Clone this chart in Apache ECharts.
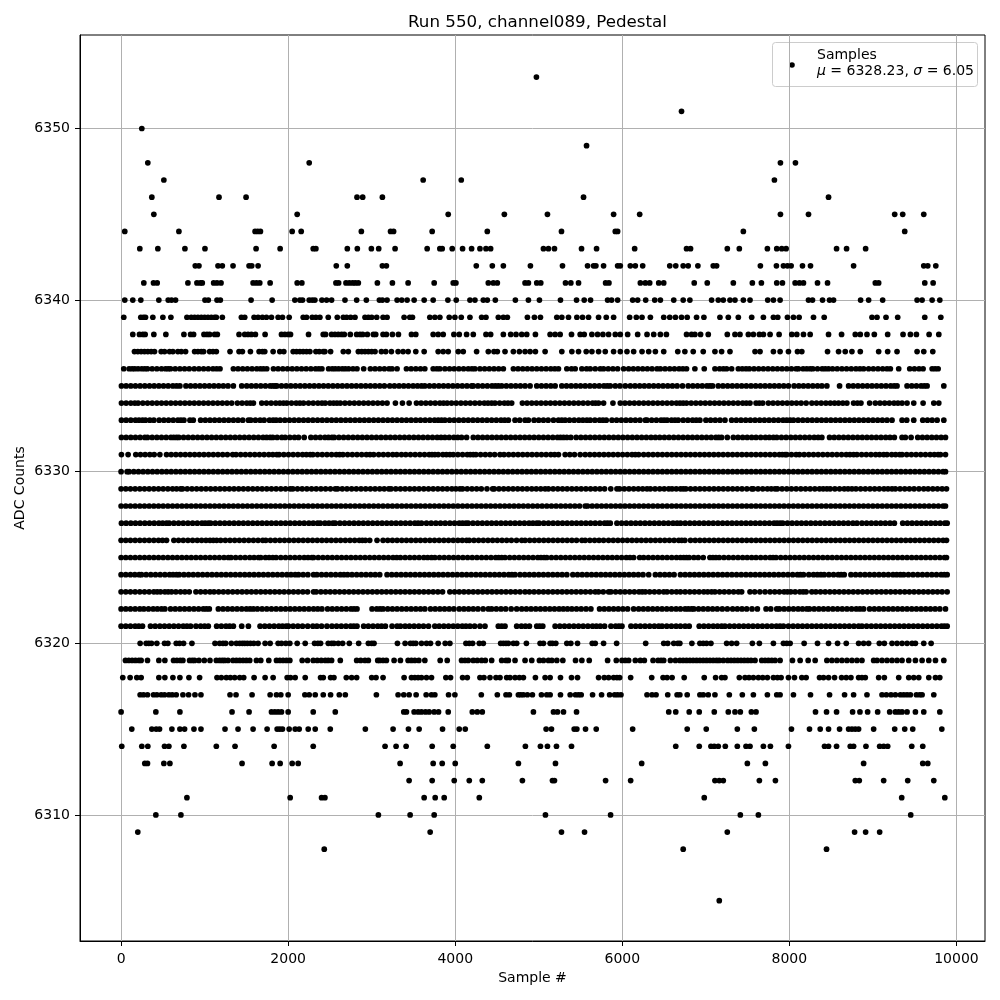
<html>
<head>
<meta charset="utf-8">
<title>Run 550, channel089, Pedestal</title>
<script src="https://cdn.jsdelivr.net/npm/echarts@6/dist/echarts.min.js"></script>
<style>
  html, body { margin: 0; background: #fff; }
  #chart { width: 1000px; height: 1000px; }
</style>
</head>
<body>
<div id="chart"></div>
<script>
// sample numbers, one list per ADC level
const x6353 = [4972];
const x6351 = [6709];
const x6350 = [248];
const x6349 = [5572];
const x6348 = [320, 2252, 7893, 8073];
const x6347 = [512, 3616, 4072, 7821];
const x6346 = [368, 1172, 1496, 2824, 2892, 3128, 5536, 8469];
const x6345 = [392, 2108, 3916, 4588, 5104, 5896, 6208, 7893, 8229, 9261, 9357, 9609];
const x6344 = [44, 692, 1604, 1636, 1668, 2048, 2156, 2876, 3226, 3262, 3724, 4384, 5272, 5916, 5944, 7449, 9381];
const x6343 = [224, 440, 764, 1004, 1616, 1904, 2300, 2332, 2708, 2828, 2996, 3084, 3280, 3664, 3816, 3844, 3964, 4088, 4196, 4296, 4368, 4424, 5056, 5116, 5188, 5512, 5692, 6148, 6769, 6817, 7257, 7401, 7737, 7849, 7909, 7961, 8565, 8685, 8913];
const x6342 = [888, 932, 1160, 1212, 1340, 1532, 1564, 1640, 2576, 2708, 3128, 3176, 4252, 4444, 4576, 4900, 5284, 5584, 5656, 5684, 5776, 5944, 5976, 6096, 6156, 6244, 6568, 6640, 6729, 6789, 6905, 7089, 7129, 7653, 7845, 7929, 7977, 8021, 8157, 8253, 8769, 9609, 9657, 9753];
const x6341 = [272, 388, 432, 800, 908, 948, 972, 1108, 1148, 1196, 1580, 1620, 1660, 1784, 2108, 2164, 2572, 2604, 2692, 2732, 2772, 2804, 2840, 3068, 3248, 3436, 3748, 3976, 4008, 4396, 4456, 4504, 4836, 4876, 4976, 5024, 5320, 5384, 5476, 5800, 5840, 6216, 6276, 6328, 6436, 6496, 6861, 7017, 7329, 7557, 7665, 7849, 7917, 8069, 8121, 8169, 8337, 8457, 9029, 9069, 9621, 9721];
const x6340 = [44, 140, 236, 452, 564, 604, 652, 1004, 1044, 1148, 1188, 1556, 1808, 2080, 2140, 2172, 2252, 2288, 2320, 2404, 2460, 2520, 2680, 2820, 2936, 3092, 3128, 3184, 3304, 3360, 3424, 3508, 3628, 3736, 3912, 4012, 4176, 4236, 4336, 4384, 4480, 4720, 4876, 5008, 5260, 5452, 5544, 5620, 5824, 5872, 5944, 6124, 6184, 6280, 6388, 6456, 6616, 6729, 6809, 7069, 7149, 7209, 7289, 7349, 7449, 7529, 7741, 7809, 7889, 8229, 8277, 8397, 8481, 8529, 8853, 8949, 9117, 9529, 9589, 9709, 9801];
const x6339 = [32, 236, 268, 292, 380, 500, 596, 788, 840, 880, 920, 960, 1000, 1040, 1080, 1120, 1140, 1212, 1440, 1480, 1592, 1640, 1692, 1740, 1800, 1880, 1932, 2012, 2180, 2220, 2288, 2332, 2380, 2480, 2588, 2660, 2700, 2748, 2800, 2920, 2960, 3000, 3060, 3136, 3184, 3388, 3456, 3488, 3696, 3756, 3816, 3928, 3996, 4072, 4176, 4316, 4368, 4516, 4576, 4624, 4864, 4948, 5020, 5216, 5276, 5356, 5456, 5524, 5596, 5716, 5808, 5896, 6088, 6168, 6236, 6336, 6496, 6568, 6636, 6709, 6777, 6889, 6977, 7169, 7269, 7389, 7549, 7689, 7809, 7861, 7977, 8049, 8117, 8289, 8417, 8989, 9049, 9157, 9297, 9621, 9813];
const x6338 = [140, 220, 260, 288, 392, 536, 752, 832, 868, 992, 1028, 1060, 1120, 1152, 1412, 1480, 1520, 1560, 1608, 1724, 1920, 1960, 2000, 2028, 2244, 2420, 2448, 2520, 2560, 2600, 2640, 2672, 2744, 2820, 2860, 2892, 2948, 3020, 3048, 3136, 3176, 3248, 3320, 3476, 3528, 3736, 3796, 3856, 3984, 4048, 4136, 4216, 4368, 4424, 4576, 4664, 4728, 4796, 4856, 4960, 5136, 5196, 5256, 5392, 5496, 5544, 5636, 5704, 5768, 5836, 5916, 5976, 6064, 6184, 6296, 6376, 6456, 6528, 6769, 6829, 6869, 6937, 7029, 7257, 7349, 7409, 7509, 7569, 7641, 7689, 7769, 7877, 8029, 8089, 8169, 8249, 8469, 8625, 8789, 8849, 8929, 9017, 9177, 9361, 9449, 9521, 9673, 9789];
const x6337 = [160, 200, 240, 280, 320, 360, 400, 480, 520, 580, 620, 680, 720, 772, 880, 920, 960, 988, 1060, 1100, 1140, 1304, 1412, 1452, 1548, 1652, 1692, 1720, 1820, 1900, 1948, 2060, 2100, 2140, 2180, 2220, 2260, 2332, 2372, 2420, 2440, 2508, 2660, 2720, 2840, 2880, 2920, 2960, 3000, 3040, 3116, 3168, 3236, 3316, 3376, 3436, 3528, 3628, 3796, 3856, 3916, 4036, 4096, 4256, 4396, 4464, 4504, 4596, 4696, 4768, 4836, 4896, 4960, 5076, 5276, 5396, 5476, 5568, 5636, 5716, 5796, 5896, 5976, 6056, 6136, 6236, 6316, 6396, 6496, 6664, 6749, 6849, 6969, 7109, 7189, 7289, 7589, 7649, 7809, 7889, 7989, 8097, 8149, 8457, 8589, 8669, 8749, 8849, 9069, 9177, 9289, 9529, 9609, 9717];
const x6336 = [32, 96, 132, 164, 204, 248, 284, 316, 372, 428, 484, 532, 564, 592, 648, 704, 760, 816, 876, 932, 988, 1044, 1100, 1144, 1184, 1344, 1400, 1456, 1512, 1568, 1624, 1668, 1704, 1744, 1824, 1880, 1936, 1992, 2048, 2104, 2160, 2216, 2272, 2328, 2368, 2404, 2484, 2528, 2564, 2604, 2648, 2684, 2724, 2776, 2824, 2904, 2984, 3040, 3096, 3152, 3208, 3244, 3304, 3416, 3472, 3528, 3584, 3636, 3736, 3780, 3816, 3876, 3932, 3988, 4044, 4100, 4156, 4200, 4236, 4296, 4352, 4408, 4464, 4520, 4576, 4696, 4752, 4808, 4864, 4920, 4976, 5032, 5088, 5144, 5192, 5236, 5336, 5392, 5436, 5516, 5572, 5616, 5676, 5736, 5776, 5832, 5888, 5944, 6016, 6076, 6132, 6188, 6244, 6300, 6356, 6416, 6456, 6512, 6568, 6624, 6680, 6725, 6769, 6869, 6981, 7109, 7165, 7210, 7249, 7309, 7389, 7436, 7481, 7521, 7577, 7633, 7689, 7745, 7801, 7857, 7913, 7969, 8025, 8081, 8109, 8165, 8208, 8249, 8281, 8337, 8393, 8430, 8469, 8517, 8573, 8629, 8685, 8741, 8797, 8845, 8889, 8949, 9005, 9061, 9117, 9169, 9209, 9309, 9441, 9497, 9553, 9601, 9709, 9745, 9781];
const x6335 = [4, 60, 116, 172, 228, 284, 340, 396, 452, 508, 564, 620, 664, 704, 776, 832, 888, 944, 1000, 1056, 1112, 1168, 1224, 1280, 1344, 1444, 1504, 1560, 1616, 1672, 1728, 1784, 1816, 1844, 1864, 1920, 1976, 2032, 2088, 2144, 2200, 2256, 2312, 2368, 2424, 2480, 2536, 2592, 2648, 2704, 2760, 2816, 2872, 2928, 2984, 3040, 3096, 3152, 3216, 3272, 3328, 3384, 3440, 3496, 3548, 3596, 3636, 3692, 3748, 3804, 3860, 3916, 3972, 4028, 4084, 4140, 4196, 4216, 4272, 4328, 4384, 4440, 4480, 4516, 4556, 4612, 4668, 4724, 4780, 4836, 4896, 4976, 5032, 5088, 5144, 5196, 5276, 5332, 5388, 5444, 5500, 5556, 5612, 5668, 5724, 5780, 5820, 5856, 5916, 5972, 6036, 6096, 6152, 6208, 6264, 6320, 6376, 6432, 6488, 6544, 6600, 6656, 6721, 6789, 6845, 6901, 6957, 7013, 7050, 7081, 7149, 7205, 7261, 7317, 7373, 7429, 7485, 7541, 7597, 7653, 7709, 7765, 7821, 7877, 7933, 7989, 8057, 8113, 8169, 8225, 8281, 8337, 8389, 8449, 8601, 8709, 8765, 8821, 8877, 8933, 8989, 9045, 9101, 9157, 9213, 9255, 9289, 9409, 9465, 9521, 9577, 9615, 9649, 9849];
const x6334 = [4, 60, 116, 164, 204, 260, 316, 372, 428, 484, 540, 596, 652, 708, 764, 820, 876, 932, 988, 1044, 1100, 1156, 1212, 1268, 1324, 1392, 1448, 1504, 1546, 1584, 1684, 1740, 1796, 1852, 1900, 1944, 1984, 2040, 2096, 2140, 2184, 2244, 2300, 2356, 2404, 2444, 2500, 2544, 2584, 2624, 2680, 2736, 2792, 2848, 2904, 2960, 3016, 3072, 3128, 3184, 3284, 3368, 3448, 3536, 3592, 3648, 3704, 3760, 3816, 3860, 3904, 3956, 4012, 4068, 4124, 4180, 4236, 4292, 4348, 4392, 4436, 4476, 4532, 4588, 4632, 4676, 4804, 4860, 4916, 4972, 5028, 5084, 5140, 5196, 5252, 5308, 5364, 5420, 5476, 5532, 5588, 5644, 5680, 5716, 5776, 5888, 5976, 6032, 6088, 6144, 6200, 6256, 6312, 6368, 6424, 6480, 6536, 6592, 6648, 6690, 6729, 6769, 6825, 6881, 6937, 6993, 7049, 7105, 7161, 7217, 7273, 7329, 7385, 7441, 7485, 7529, 7601, 7640, 7681, 7749, 7805, 7861, 7917, 7973, 8029, 8085, 8141, 8201, 8269, 8325, 8381, 8437, 8490, 8541, 8589, 8640, 8689, 8769, 8815, 8857, 8961, 9029, 9085, 9141, 9197, 9253, 9300, 9349, 9409, 9489, 9601, 9729, 9789];
const x6333 = [4, 60, 116, 172, 214, 256, 292, 344, 392, 456, 512, 568, 624, 680, 716, 752, 824, 864, 952, 1008, 1064, 1120, 1176, 1232, 1288, 1344, 1400, 1456, 1524, 1552, 1608, 1664, 1712, 1776, 1820, 1856, 1904, 1960, 2016, 2072, 2128, 2184, 2240, 2296, 2352, 2408, 2464, 2520, 2576, 2632, 2688, 2744, 2800, 2856, 2912, 2968, 3024, 3080, 3136, 3192, 3248, 3304, 3360, 3416, 3472, 3528, 3584, 3640, 3696, 3752, 3796, 3836, 3876, 3932, 3988, 4044, 4100, 4156, 4212, 4268, 4324, 4380, 4436, 4492, 4548, 4592, 4636, 4716, 4772, 4836, 4876, 4944, 5000, 5056, 5112, 5176, 5236, 5276, 5316, 5368, 5424, 5480, 5528, 5576, 5616, 5672, 5728, 5768, 5808, 5876, 5932, 5988, 6044, 6100, 6156, 6212, 6276, 6296, 6352, 6408, 6464, 6500, 6536, 6589, 6630, 6669, 6729, 6785, 6841, 6885, 6929, 7001, 7057, 7113, 7169, 7229, 7309, 7365, 7421, 7477, 7533, 7589, 7645, 7701, 7757, 7813, 7869, 7925, 7968, 8009, 8049, 8105, 8161, 8217, 8273, 8329, 8385, 8441, 8497, 8553, 8609, 8665, 8721, 8777, 8833, 8889, 8945, 9001, 9057, 9113, 9169, 9229, 9349, 9405, 9489, 9597, 9653, 9709, 9769, 9849];
const x6332 = [4, 60, 116, 172, 228, 284, 316, 372, 428, 484, 540, 596, 630, 664, 692, 748, 804, 860, 916, 972, 1028, 1084, 1140, 1196, 1252, 1308, 1364, 1420, 1476, 1532, 1588, 1644, 1700, 1742, 1784, 1816, 1868, 1924, 1964, 2020, 2076, 2124, 2192, 2272, 2328, 2384, 2440, 2482, 2524, 2552, 2608, 2664, 2720, 2776, 2832, 2888, 2944, 3000, 3056, 3112, 3168, 3224, 3280, 3336, 3392, 3448, 3504, 3560, 3616, 3672, 3728, 3784, 3830, 3876, 3928, 3984, 4030, 4076, 4136, 4216, 4272, 4328, 4384, 4440, 4496, 4552, 4608, 4664, 4720, 4776, 4832, 4888, 4944, 5000, 5056, 5112, 5168, 5224, 5260, 5296, 5336, 5384, 5448, 5504, 5560, 5616, 5672, 5728, 5784, 5840, 5896, 5952, 6008, 6064, 6120, 6176, 6232, 6288, 6344, 6396, 6448, 6504, 6560, 6616, 6672, 6728, 6784, 6840, 6896, 6952, 7008, 7064, 7120, 7155, 7189, 7257, 7329, 7385, 7441, 7495, 7549, 7601, 7657, 7713, 7760, 7809, 7849, 7905, 7961, 8017, 8073, 8129, 8185, 8241, 8297, 8345, 8389, 8481, 8537, 8593, 8649, 8705, 8761, 8817, 8873, 8929, 8985, 9041, 9097, 9153, 9205, 9257, 9349, 9389, 9457, 9537, 9593, 9649, 9705, 9761, 9817, 9869];
const x6331 = [4, 84, 176, 232, 288, 344, 396, 464, 544, 600, 656, 712, 768, 824, 880, 936, 992, 1048, 1104, 1160, 1216, 1272, 1336, 1376, 1432, 1488, 1544, 1600, 1656, 1712, 1768, 1816, 1864, 1892, 1948, 2004, 2060, 2116, 2172, 2218, 2264, 2296, 2352, 2408, 2464, 2520, 2576, 2616, 2656, 2712, 2768, 2824, 2880, 2936, 2980, 3024, 3084, 3140, 3196, 3252, 3300, 3356, 3408, 3464, 3520, 3576, 3632, 3688, 3722, 3756, 3796, 3852, 3894, 3936, 3976, 4032, 4088, 4144, 4180, 4216, 4248, 4304, 4360, 4416, 4472, 4536, 4584, 4640, 4696, 4752, 4808, 4864, 4920, 4976, 5032, 5088, 5144, 5190, 5236, 5316, 5372, 5428, 5496, 5556, 5612, 5668, 5724, 5780, 5836, 5892, 5948, 6004, 6060, 6116, 6156, 6196, 6256, 6312, 6368, 6424, 6480, 6536, 6592, 6648, 6704, 6760, 6816, 6872, 6928, 6984, 7040, 7096, 7152, 7208, 7264, 7320, 7376, 7432, 7488, 7544, 7600, 7656, 7712, 7768, 7824, 7880, 7915, 7949, 7969, 8025, 8081, 8121, 8177, 8233, 8289, 8345, 8401, 8457, 8513, 8569, 8625, 8681, 8725, 8769, 8809, 8865, 8921, 8977, 9033, 9080, 9129, 9169, 9225, 9272, 9321, 9349, 9405, 9461, 9517, 9573, 9629, 9685, 9735, 9781, 9809, 9869];
const x6330 = [0, 72, 96, 152, 208, 264, 320, 376, 432, 488, 544, 600, 656, 712, 768, 824, 880, 936, 992, 1048, 1104, 1160, 1216, 1272, 1328, 1384, 1440, 1496, 1552, 1608, 1664, 1720, 1776, 1832, 1888, 1944, 2000, 2056, 2112, 2168, 2224, 2280, 2336, 2392, 2448, 2504, 2560, 2616, 2672, 2728, 2784, 2840, 2896, 2952, 3008, 3064, 3120, 3176, 3232, 3288, 3344, 3400, 3456, 3512, 3568, 3624, 3680, 3736, 3792, 3848, 3904, 3960, 4016, 4072, 4128, 4184, 4240, 4296, 4352, 4408, 4464, 4520, 4576, 4632, 4688, 4744, 4800, 4856, 4912, 4968, 5024, 5080, 5136, 5192, 5248, 5304, 5360, 5416, 5472, 5528, 5584, 5640, 5696, 5752, 5808, 5864, 5920, 5976, 6032, 6088, 6144, 6200, 6256, 6312, 6368, 6424, 6480, 6536, 6592, 6648, 6704, 6760, 6816, 6872, 6928, 6984, 7040, 7096, 7152, 7208, 7264, 7320, 7376, 7432, 7488, 7544, 7600, 7656, 7712, 7768, 7824, 7880, 7936, 7992, 8048, 8104, 8160, 8216, 8272, 8328, 8384, 8440, 8496, 8552, 8608, 8664, 8720, 8776, 8832, 8888, 8944, 9000, 9056, 9112, 9168, 9224, 9280, 9336, 9392, 9448, 9504, 9560, 9616, 9672, 9728, 9784, 9840, 9869];
const x6329 = [0, 56, 112, 168, 224, 280, 336, 392, 448, 504, 560, 616, 664, 712, 736, 792, 848, 904, 960, 1016, 1072, 1128, 1184, 1240, 1296, 1352, 1408, 1464, 1520, 1576, 1632, 1688, 1744, 1800, 1856, 1912, 1968, 2024, 2056, 2112, 2168, 2224, 2280, 2336, 2392, 2448, 2506, 2564, 2592, 2648, 2704, 2760, 2816, 2872, 2928, 2984, 3040, 3096, 3150, 3204, 3232, 3288, 3344, 3400, 3456, 3512, 3568, 3624, 3680, 3736, 3792, 3848, 3904, 3960, 4008, 4056, 4088, 4144, 4200, 4256, 4312, 4380, 4448, 4468, 4524, 4580, 4636, 4692, 4748, 4804, 4860, 4916, 4970, 5024, 5076, 5116, 5172, 5228, 5284, 5340, 5396, 5452, 5508, 5564, 5620, 5676, 5732, 5788, 5862, 5936, 5968, 6024, 6080, 6136, 6192, 6244, 6296, 6336, 6392, 6448, 6502, 6556, 6596, 6646, 6696, 6729, 6761, 6817, 6873, 6929, 6985, 7041, 7097, 7153, 7209, 7265, 7321, 7377, 7433, 7491, 7549, 7569, 7625, 7681, 7737, 7783, 7829, 7857, 7913, 7969, 8025, 8081, 8137, 8193, 8249, 8305, 8361, 8405, 8449, 8489, 8545, 8601, 8657, 8703, 8749, 8797, 8853, 8909, 8965, 9021, 9077, 9133, 9181, 9229, 9269, 9325, 9381, 9437, 9493, 9551, 9609, 9661, 9717, 9773, 9829, 9881];
const x6328 = [0, 56, 112, 168, 224, 280, 336, 392, 448, 504, 560, 616, 672, 728, 784, 840, 896, 952, 1008, 1064, 1120, 1176, 1232, 1288, 1344, 1400, 1456, 1512, 1568, 1624, 1680, 1736, 1792, 1848, 1904, 1960, 2016, 2072, 2128, 2184, 2240, 2296, 2352, 2408, 2464, 2520, 2576, 2632, 2688, 2744, 2800, 2856, 2912, 2968, 3024, 3080, 3136, 3192, 3248, 3304, 3360, 3416, 3472, 3528, 3584, 3640, 3696, 3752, 3808, 3864, 3920, 3976, 4032, 4088, 4144, 4200, 4256, 4312, 4368, 4424, 4480, 4536, 4592, 4648, 4704, 4760, 4816, 4872, 4928, 4984, 5040, 5096, 5152, 5208, 5264, 5320, 5376, 5432, 5488, 5556, 5584, 5640, 5696, 5752, 5808, 5864, 5920, 5976, 6032, 6088, 6144, 6200, 6256, 6312, 6368, 6424, 6480, 6536, 6592, 6648, 6704, 6760, 6816, 6872, 6928, 6984, 7040, 7096, 7152, 7208, 7264, 7320, 7376, 7432, 7488, 7544, 7600, 7656, 7712, 7768, 7824, 7880, 7936, 7992, 8048, 8104, 8160, 8216, 8272, 8328, 8384, 8440, 8496, 8552, 8608, 8664, 8720, 8776, 8832, 8888, 8944, 9000, 9056, 9112, 9168, 9224, 9280, 9336, 9392, 9448, 9504, 9560, 9616, 9672, 9728, 9784, 9840, 9869];
const x6327 = [4, 60, 116, 172, 228, 284, 340, 396, 452, 498, 544, 576, 632, 688, 744, 800, 856, 912, 968, 1006, 1044, 1072, 1128, 1184, 1240, 1296, 1352, 1408, 1464, 1520, 1576, 1632, 1688, 1744, 1800, 1856, 1912, 1968, 2024, 2080, 2136, 2192, 2248, 2300, 2352, 2384, 2440, 2488, 2536, 2564, 2620, 2676, 2732, 2788, 2844, 2900, 2956, 3012, 3068, 3124, 3180, 3236, 3292, 3348, 3404, 3460, 3516, 3556, 3596, 3656, 3712, 3768, 3824, 3880, 3936, 3992, 4048, 4088, 4128, 4156, 4212, 4268, 4324, 4380, 4436, 4492, 4548, 4604, 4660, 4716, 4772, 4828, 4884, 4930, 4976, 5004, 5060, 5116, 5172, 5228, 5284, 5340, 5396, 5452, 5508, 5564, 5620, 5676, 5732, 5788, 5822, 5856, 5936, 5992, 6048, 6104, 6160, 6216, 6272, 6328, 6384, 6440, 6496, 6552, 6608, 6656, 6697, 6753, 6809, 6865, 6921, 6977, 7033, 7089, 7145, 7201, 7257, 7313, 7369, 7425, 7481, 7537, 7593, 7649, 7705, 7761, 7817, 7853, 7889, 7921, 7977, 8033, 8089, 8145, 8201, 8257, 8313, 8369, 8425, 8481, 8537, 8593, 8649, 8705, 8761, 8809, 8869, 8925, 8981, 9037, 9093, 9149, 9205, 9257, 9357, 9413, 9469, 9525, 9581, 9637, 9693, 9749, 9805, 9861, 9889];
const x6326 = [0, 56, 112, 168, 224, 280, 336, 392, 448, 496, 544, 632, 688, 744, 800, 856, 912, 964, 1016, 1064, 1104, 1144, 1192, 1248, 1304, 1360, 1416, 1472, 1528, 1584, 1640, 1696, 1732, 1788, 1844, 1900, 1956, 2012, 2068, 2124, 2180, 2236, 2292, 2348, 2404, 2460, 2516, 2572, 2628, 2684, 2740, 2796, 2852, 2888, 2924, 2976, 3064, 3136, 3192, 3248, 3304, 3360, 3416, 3472, 3528, 3584, 3640, 3696, 3752, 3808, 3864, 3920, 3976, 4032, 4084, 4136, 4168, 4224, 4280, 4336, 4392, 4448, 4504, 4560, 4616, 4672, 4734, 4796, 4836, 4892, 4948, 5004, 5060, 5116, 5172, 5228, 5284, 5340, 5396, 5452, 5516, 5556, 5612, 5668, 5722, 5776, 5836, 5892, 5948, 6004, 6060, 6116, 6172, 6228, 6284, 6340, 6396, 6452, 6508, 6564, 6620, 6676, 6712, 6749, 6817, 6873, 6929, 6985, 7041, 7097, 7153, 7209, 7265, 7321, 7377, 7433, 7489, 7545, 7601, 7657, 7713, 7769, 7825, 7881, 7937, 7993, 8049, 8105, 8161, 8217, 8273, 8329, 8385, 8441, 8497, 8553, 8609, 8665, 8721, 8777, 8833, 8889, 8945, 9001, 9057, 9113, 9169, 9225, 9281, 9337, 9393, 9449, 9505, 9561, 9617, 9673, 9729, 9785, 9841, 9881];
const x6325 = [0, 56, 112, 168, 224, 280, 336, 392, 448, 504, 560, 616, 672, 728, 784, 840, 896, 952, 1008, 1064, 1120, 1176, 1232, 1284, 1316, 1372, 1428, 1484, 1540, 1592, 1644, 1672, 1728, 1772, 1816, 1856, 1912, 1968, 2024, 2080, 2136, 2192, 2238, 2284, 2304, 2360, 2416, 2472, 2528, 2584, 2640, 2696, 2752, 2808, 2864, 2920, 2976, 3032, 3088, 3144, 3200, 3256, 3300, 3344, 3400, 3456, 3512, 3568, 3624, 3670, 3716, 3756, 3812, 3868, 3924, 3980, 4036, 4092, 4148, 4204, 4260, 4316, 4372, 4428, 4484, 4520, 4556, 4596, 4652, 4708, 4764, 4820, 4876, 4932, 4988, 5026, 5064, 5096, 5152, 5208, 5264, 5320, 5376, 5432, 5488, 5544, 5600, 5656, 5712, 5768, 5824, 5880, 5936, 5992, 6048, 6092, 6136, 6208, 6256, 6312, 6368, 6424, 6480, 6536, 6592, 6648, 6696, 6735, 6769, 6801, 6857, 6909, 6969, 7049, 7085, 7121, 7161, 7217, 7273, 7329, 7385, 7441, 7495, 7549, 7601, 7657, 7713, 7769, 7805, 7841, 7897, 7953, 8009, 8065, 8121, 8177, 8233, 8289, 8345, 8401, 8457, 8513, 8569, 8625, 8681, 8737, 8793, 8849, 8905, 8961, 9017, 9073, 9129, 9185, 9241, 9297, 9353, 9409, 9465, 9521, 9577, 9633, 9689, 9745, 9801, 9857, 9881];
const x6324 = [0, 56, 112, 164, 216, 244, 300, 356, 412, 468, 524, 580, 622, 664, 696, 752, 808, 864, 920, 976, 1032, 1088, 1144, 1200, 1256, 1312, 1368, 1424, 1480, 1536, 1592, 1648, 1704, 1760, 1816, 1872, 1928, 1984, 2034, 2084, 2124, 2180, 2236, 2304, 2344, 2400, 2456, 2512, 2568, 2624, 2668, 2712, 2764, 2820, 2876, 2932, 2988, 3042, 3096, 3184, 3240, 3296, 3352, 3408, 3464, 3520, 3576, 3632, 3688, 3744, 3800, 3856, 3912, 3968, 4024, 4080, 4136, 4192, 4248, 4304, 4360, 4416, 4472, 4528, 4584, 4640, 4678, 4716, 4776, 4832, 4888, 4944, 5000, 5056, 5112, 5168, 5224, 5280, 5336, 5408, 5464, 5520, 5576, 5632, 5688, 5744, 5800, 5856, 5912, 5968, 6024, 6080, 6136, 6192, 6248, 6316, 6396, 6452, 6508, 6564, 6620, 6696, 6752, 6808, 6864, 6920, 6976, 7032, 7088, 7144, 7200, 7256, 7312, 7368, 7424, 7480, 7536, 7592, 7648, 7704, 7760, 7816, 7872, 7928, 7984, 8040, 8096, 8132, 8169, 8233, 8289, 8335, 8377, 8417, 8473, 8529, 8585, 8620, 8657, 8737, 8793, 8849, 8905, 8961, 9017, 9073, 9129, 9185, 9241, 9285, 9329, 9369, 9425, 9481, 9537, 9593, 9649, 9705, 9761, 9817, 9855, 9889];
const x6323 = [0, 56, 112, 168, 224, 280, 336, 392, 432, 472, 524, 564, 604, 656, 712, 764, 816, 896, 952, 1008, 1064, 1112, 1168, 1224, 1280, 1336, 1392, 1448, 1504, 1560, 1616, 1672, 1728, 1784, 1840, 1896, 1952, 2008, 2064, 2120, 2176, 2232, 2304, 2336, 2392, 2448, 2504, 2560, 2616, 2672, 2728, 2784, 2840, 2896, 2952, 3008, 3064, 3120, 3176, 3232, 3288, 3344, 3400, 3456, 3512, 3568, 3624, 3680, 3736, 3792, 3848, 3936, 3992, 4048, 4104, 4160, 4216, 4272, 4328, 4384, 4440, 4496, 4552, 4608, 4664, 4720, 4776, 4836, 4888, 4944, 5000, 5056, 5112, 5168, 5224, 5280, 5336, 5392, 5448, 5504, 5560, 5618, 5676, 5716, 5772, 5836, 5864, 5920, 5976, 6032, 6088, 6144, 6200, 6238, 6276, 6328, 6384, 6440, 6496, 6536, 6592, 6648, 6696, 6752, 6808, 6864, 6920, 6976, 7022, 7069, 7109, 7165, 7221, 7277, 7333, 7389, 7429, 7529, 7585, 7647, 7709, 7769, 7825, 7881, 7937, 7977, 8017, 8069, 8125, 8165, 8201, 8269, 8317, 8373, 8429, 8485, 8541, 8597, 8653, 8709, 8765, 8821, 8877, 8933, 8989, 9045, 9101, 9157, 9213, 9269, 9325, 9381, 9437, 9493, 9549, 9605, 9661, 9717, 9773, 9829, 9889];
const x6322 = [0, 56, 112, 168, 224, 272, 328, 384, 434, 484, 524, 592, 648, 704, 760, 816, 872, 928, 984, 1020, 1056, 1164, 1220, 1276, 1332, 1388, 1444, 1500, 1544, 1584, 1632, 1688, 1744, 1800, 1856, 1912, 1968, 2024, 2080, 2136, 2192, 2248, 2304, 2354, 2404, 2472, 2528, 2584, 2640, 2696, 2752, 2788, 2824, 3004, 3060, 3100, 3136, 3192, 3248, 3304, 3360, 3416, 3472, 3528, 3584, 3636, 3704, 3760, 3816, 3872, 3928, 3984, 4048, 4104, 4160, 4216, 4272, 4334, 4396, 4436, 4492, 4548, 4604, 4670, 4736, 4796, 4852, 4908, 4964, 5020, 5076, 5132, 5188, 5244, 5294, 5344, 5396, 5452, 5508, 5566, 5624, 5728, 5784, 5840, 5896, 5952, 6008, 6064, 6136, 6196, 6252, 6308, 6364, 6420, 6476, 6532, 6588, 6644, 6696, 6752, 6790, 6829, 6857, 6913, 6969, 7025, 7081, 7137, 7197, 7257, 7321, 7377, 7433, 7489, 7553, 7617, 7721, 7777, 7849, 7881, 7937, 7993, 8049, 8105, 8157, 8209, 8241, 8297, 8353, 8409, 8465, 8521, 8577, 8633, 8689, 8745, 8801, 8845, 8889, 8961, 9017, 9073, 9129, 9185, 9241, 9297, 9353, 9409, 9465, 9521, 9577, 9633, 9689, 9745, 9801, 9869];
const x6321 = [0, 56, 112, 168, 212, 256, 352, 408, 464, 520, 576, 632, 688, 744, 788, 832, 896, 952, 1000, 1044, 1144, 1200, 1256, 1300, 1344, 1444, 1524, 1664, 1720, 1776, 1832, 1888, 1932, 1976, 2004, 2060, 2116, 2172, 2234, 2296, 2344, 2400, 2464, 2524, 2580, 2636, 2692, 2748, 2786, 2824, 2904, 2960, 3016, 3072, 3118, 3164, 3244, 3304, 3344, 3400, 3452, 3508, 3564, 3620, 3680, 3756, 3808, 3864, 3920, 3976, 4030, 4084, 4128, 4176, 4232, 4296, 4356, 4516, 4556, 4596, 4736, 4792, 4840, 4888, 4976, 5012, 5048, 5196, 5252, 5308, 5364, 5420, 5476, 5532, 5588, 5644, 5690, 5736, 5788, 5864, 5920, 5960, 5996, 6104, 6160, 6216, 6272, 6328, 6384, 6436, 6476, 6532, 6588, 6644, 6696, 6752, 6801, 6921, 6977, 7033, 7089, 7140, 7189, 7229, 7285, 7341, 7397, 7453, 7509, 7565, 7621, 7677, 7733, 7789, 7845, 7888, 7929, 7989, 8045, 8101, 8157, 8213, 8269, 8325, 8381, 8437, 8493, 8549, 8605, 8661, 8717, 8773, 8829, 8869, 8925, 8981, 9037, 9093, 9149, 9205, 9261, 9317, 9373, 9429, 9485, 9541, 9597, 9653, 9709, 9765, 9821, 9855, 9889];
const x6320 = [228, 300, 332, 364, 428, 520, 560, 660, 700, 748, 848, 1124, 1180, 1220, 1252, 1320, 1380, 1420, 1452, 1480, 1512, 1548, 1588, 1640, 1724, 1784, 1880, 1920, 1972, 2020, 2108, 2204, 2316, 2356, 2388, 2480, 2520, 2548, 2600, 2652, 2732, 2844, 2960, 3000, 3028, 3308, 3400, 3464, 3496, 3528, 3596, 3656, 3704, 3796, 3880, 3936, 4128, 4168, 4208, 4288, 4336, 4544, 4576, 4608, 4636, 4696, 4736, 4852, 5016, 5056, 5136, 5164, 5204, 5336, 5384, 5464, 5640, 5676, 5776, 5932, 6280, 6496, 6544, 6616, 6664, 6689, 6833, 6929, 6969, 7009, 7061, 7249, 7309, 7369, 7557, 7641, 7809, 7929, 7969, 8009, 8177, 8337, 8469, 8577, 8681, 8829, 8889, 8949, 9077, 9137, 9229, 9289, 9349, 9409, 9469, 9509, 9609, 9697];
const x6319 = [52, 92, 132, 172, 212, 240, 316, 452, 524, 628, 668, 708, 740, 820, 852, 880, 932, 996, 1064, 1140, 1180, 1212, 1240, 1280, 1340, 1380, 1420, 1460, 1500, 1540, 1620, 1672, 1768, 1860, 1900, 1940, 1980, 2020, 2168, 2232, 2300, 2348, 2396, 2444, 2480, 2520, 2624, 2820, 2868, 2920, 2960, 3072, 3096, 3136, 3176, 3268, 3344, 3436, 3476, 3516, 3564, 3636, 3820, 3904, 4076, 4116, 4156, 4216, 4264, 4316, 4360, 4436, 4556, 4608, 4636, 4716, 4836, 4916, 5008, 5056, 5116, 5156, 5216, 5288, 5440, 5516, 5604, 5824, 5928, 5996, 6036, 6076, 6156, 6216, 6264, 6368, 6428, 6464, 6496, 6576, 6636, 6689, 6729, 6769, 6809, 6849, 6889, 6929, 6969, 7009, 7049, 7089, 7129, 7161, 7209, 7261, 7301, 7341, 7381, 7421, 7461, 7501, 7541, 7589, 7669, 7709, 7749, 7789, 7829, 7889, 8037, 8129, 8225, 8309, 8449, 8509, 8569, 8629, 8689, 8749, 8809, 8869, 9009, 9049, 9109, 9169, 9229, 9289, 9349, 9429, 9509, 9589, 9669, 9749, 9849];
const x6318 = [20, 108, 188, 240, 452, 524, 620, 704, 812, 940, 1148, 1200, 1260, 1308, 1360, 1420, 1468, 1592, 1724, 1820, 1988, 2028, 2084, 2204, 2388, 2420, 2508, 2548, 2696, 2760, 2820, 3000, 3052, 3136, 3388, 3476, 3516, 3556, 3596, 3656, 3716, 3888, 3944, 4088, 4144, 4296, 4344, 4416, 4488, 4536, 4616, 4656, 4716, 4768, 4816, 4960, 5076, 5136, 5260, 5392, 5464, 5716, 5784, 5836, 5896, 5936, 5968, 6100, 6352, 6488, 6536, 6596, 6741, 6981, 7117, 7189, 7229, 7401, 7469, 7517, 7569, 7629, 7681, 7737, 7809, 7857, 7901, 7989, 8061, 8149, 8201, 8361, 8409, 8469, 8541, 8625, 8681, 8737, 8829, 8869, 8909, 9069, 9137, 9309, 9429, 9489, 9549, 9669, 9749, 9801];
const x6317 = [228, 268, 316, 388, 428, 480, 520, 572, 612, 660, 740, 808, 884, 956, 1304, 1376, 1568, 1784, 1860, 1912, 2000, 2200, 2252, 2324, 2420, 2508, 2612, 2684, 3056, 3316, 3384, 3448, 3532, 3652, 3716, 3756, 3920, 3996, 4312, 4504, 4608, 4648, 4756, 4784, 4816, 4864, 4924, 5032, 5096, 5136, 5260, 5376, 5440, 5476, 5508, 5644, 5752, 5848, 5908, 5944, 5984, 6296, 6356, 6404, 6544, 6656, 6689, 6777, 6929, 6969, 7029, 7109, 7281, 7437, 7569, 7737, 7849, 7889, 8049, 8253, 8481, 8661, 8769, 8929, 9109, 9161, 9217, 9269, 9329, 9369, 9409, 9449, 9521, 9561, 9589, 9729];
const x6316 = [0, 416, 704, 1328, 1532, 1800, 1840, 1880, 1920, 2000, 2300, 2564, 3384, 3416, 3508, 3556, 3596, 3644, 3688, 3748, 3800, 3916, 4204, 4264, 4324, 4936, 5176, 5224, 5296, 5452, 6556, 6640, 6801, 6921, 7101, 7269, 7349, 7413, 7545, 7601, 8313, 8445, 8565, 8757, 8845, 8937, 9057, 9201, 9269, 9309, 9349, 9409, 9509, 9609, 9801];
const x6315 = [128, 368, 420, 460, 608, 704, 760, 872, 956, 1244, 1400, 1580, 1748, 1868, 1900, 1932, 2012, 2084, 2132, 2240, 2324, 2504, 2924, 3256, 3440, 3568, 3848, 4048, 4120, 5088, 5152, 5424, 5456, 5560, 5688, 6124, 6777, 7005, 7377, 7581, 8025, 8241, 8369, 8469, 8601, 8709, 8749, 8789, 8829, 9009, 9261, 9381, 9477, 9825];
const x6314 = [8, 248, 320, 520, 572, 752, 1140, 1364, 1832, 2300, 3160, 3292, 3412, 3724, 3976, 4384, 4840, 5020, 5104, 5212, 5392, 6640, 6921, 7061, 7101, 7149, 7233, 7377, 7481, 7529, 7689, 7773, 7989, 8421, 8469, 8565, 8729, 8769, 8917, 9081, 9129, 9177, 9465, 9597];
const x6313 = [284, 316, 512, 584, 1448, 1808, 1904, 2048, 2120, 3340, 3736, 3844, 4000, 4756, 5200, 6232, 7497, 7713, 8889, 9597, 9657];
const x6312 = [3448, 3724, 3988, 4168, 4324, 4804, 5164, 5188, 5800, 6100, 7109, 7161, 7209, 7641, 7833, 8789, 8837, 9129, 9417, 9729];
const x6311 = [788, 2024, 2400, 2440, 3628, 3760, 3868, 4288, 6981, 9345, 9861];
const x6310 = [416, 716, 3080, 3460, 3748, 5080, 5860, 7413, 7629, 9453];
const x6309 = [200, 3700, 5272, 5548, 7257, 8781, 8913, 9081];
const x6308 = [2432, 6729, 8445];
const x6305 = [7161];

const levels = [6353, 6351, 6350, 6349, 6348, 6347, 6346, 6345, 6344, 6343, 6342, 6341, 6340, 6339, 6338, 6337, 6336, 6335, 6334, 6333, 6332, 6331, 6330, 6329, 6328, 6327, 6326, 6325, 6324, 6323, 6322, 6321, 6320, 6319, 6318, 6317, 6316, 6315, 6314, 6313, 6312, 6311, 6310, 6309, 6308, 6305];
const levelSamples = [x6353, x6351, x6350, x6349, x6348, x6347, x6346, x6345, x6344, x6343, x6342, x6341, x6340, x6339, x6338, x6337, x6336, x6335, x6334, x6333, x6332, x6331, x6330, x6329, x6328, x6327, x6326, x6325, x6324, x6323, x6322, x6321, x6320, x6319, x6318, x6317, x6316, x6315, x6314, x6313, x6312, x6311, x6310, x6309, x6308, x6305];

const xTicks = [0, 2000, 4000, 6000, 8000, 10000];
const yTicks = [6310, 6320, 6330, 6340, 6350];

const fontName = '"DejaVu Sans"';
var points = [];
levels.forEach(function (lvl, i) {
  levelSamples[i].forEach(function (s) { points.push([s, lvl]); });
});

var myChart = echarts.init(document.getElementById('chart'));
var axisCommon = {
  type: 'value',
  axisLine: { show: true, onZero: false, lineStyle: { color: '#000', width: 1 } },
  splitLine: { show: true, lineStyle: { color: '#b0b0b0', width: 1 } },
  nameLocation: 'middle',
  nameMoveOverlap: false,
  nameTextStyle: { fontFamily: fontName, fontSize: 14, color: '#000' }
};
var tickStyle = { show: true, length: 5, lineStyle: { color: '#000', width: 1 } };
function plainLabel(v) { return String(v); }

myChart.setOption({
  animation: false,
  backgroundColor: '#fff',
  title: {
    text: 'Run 550, channel089, Pedestal',
    left: 403, top: 9,
    textStyle: { fontFamily: fontName, fontSize: 16.7, fontWeight: 'normal', color: '#000' }
  },
  grid: { left: 80, right: 15, top: 35, bottom: 59, show: true, borderColor: '#000', borderWidth: 1, backgroundColor: 'transparent' },
  xAxis: Object.assign({}, axisCommon, {
    min: -492, max: 10342,
    name: 'Sample #', nameGap: 30,
    axisTick: Object.assign({ customValues: xTicks }, tickStyle),
    axisLabel: { customValues: xTicks, formatter: plainLabel, fontFamily: fontName, fontSize: 14, color: '#000', margin: 11 }
  }),
  yAxis: Object.assign({}, axisCommon, {
    min: 6302.65, max: 6355.45,
    name: 'ADC Counts', nameGap: 53,
    axisTick: Object.assign({ customValues: yTicks }, tickStyle),
    axisLabel: { customValues: yTicks, formatter: plainLabel, fontFamily: fontName, fontSize: 14, color: '#000', margin: 10 }
  }),
  graphic: [{
    type: 'group', z: 100,
    children: [
      { type: 'rect', shape: { x: 772.5, y: 42.5, width: 205, height: 44, r: 3 }, style: { fill: 'rgba(255,255,255,0.8)', stroke: '#ccc', lineWidth: 1 } },
      { type: 'circle', shape: { cx: 792, cy: 65, r: 2.8 }, style: { fill: '#000' } },
      { type: 'text', x: 817, y: 47, style: {
        text: '{t|Samples}\n{i|μ}{t| = 6328.23, }{i|σ}{t| = 6.05}',
        rich: {
          t: { fontFamily: fontName, fontSize: 14, lineHeight: 16.5, fill: '#000' },
          i: { fontFamily: fontName, fontSize: 14, lineHeight: 16.5, fontStyle: 'italic', fill: '#000' }
        }
      } }
    ]
  }],
  series: [{
    name: 'Samples',
    type: 'scatter',
    symbol: 'circle',
    symbolSize: 5.7,
    itemStyle: { color: '#000', opacity: 1 },
    data: points
  }]
});
</script>
</body>
</html>
